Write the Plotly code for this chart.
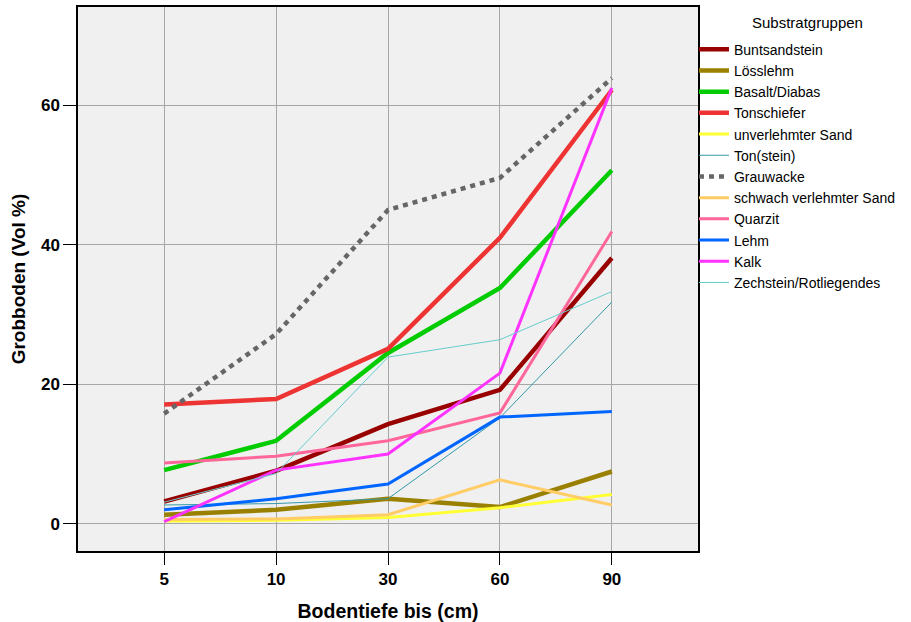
import plotly.graph_objects as go

depths = ["5", "10", "30", "60", "90"]

buntsandstein = [3.2, 7.6, 14.3, 19.2, 38.1]
loesslehm = [1.3, 2.0, 3.6, 2.4, 7.5]
basalt = [7.7, 11.9, 24.5, 33.8, 50.7]
tonschiefer = [17.1, 17.9, 25.1, 41.0, 62.2]
unverlehmt = [0.4, 0.5, 0.9, 2.3, 4.2]
tonstein = [2.7, 2.9, 3.6, 15.2, 31.8]
grauwacke = [15.8, 27.2, 45.0, 49.6, 63.9]
schwach = [0.6, 0.7, 1.3, 6.3, 2.7]
quarzit = [8.7, 9.7, 11.9, 15.9, 41.9]
lehm = [2.0, 3.6, 5.7, 15.3, 16.1]
kalk = [0.3, 7.7, 10.0, 21.6, 62.5]
zechstein = [3.1, 7.2, 23.9, 26.4, 33.3]

series = [
    ("Buntsandstein", buntsandstein, "#990000", 4.5, "solid"),
    ("Lösslehm", loesslehm, "#998000", 4.5, "solid"),
    ("Basalt/Diabas", basalt, "#00cc00", 4.5, "solid"),
    ("Tonschiefer", tonschiefer, "#ee3333", 4.5, "solid"),
    ("unverlehmter Sand", unverlehmt, "#ffff33", 3, "solid"),
    ("Ton(stein)", tonstein, "#3399aa", 1, "solid"),
    ("Grauwacke", grauwacke, "#666666", 4.5, "5px,5px"),
    ("schwach verlehmter Sand", schwach, "#ffcc66", 3, "solid"),
    ("Quarzit", quarzit, "#ff6699", 3, "solid"),
    ("Lehm", lehm, "#0066ff", 3, "solid"),
    ("Kalk", kalk, "#ff33ff", 3, "solid"),
    ("Zechstein/Rotliegendes", zechstein, "#66cccc", 1, "solid"),
]

fig = go.Figure()
for i, (name, vals, col, w, dash) in enumerate(series):
    fig.add_trace(go.Scatter(
        x=depths, y=vals, name=name, mode="lines",
        line=dict(color=col, width=w, dash=dash),
        legendgroup=f"g{i}",
    ))

fig.add_annotation(
    text="Substratgruppen", xref="paper", yref="paper",
    x=1.177, y=0.972, xanchor="center", yanchor="middle",
    showarrow=False, font=dict(size=15),
)

fig.update_layout(
    width=911, height=622,
    margin=dict(l=78, r=213, t=7, b=71, autoexpand=False),
    paper_bgcolor="white", plot_bgcolor="#f0f0f0",
    font=dict(family="Arial, Liberation Sans, sans-serif", color="black"),
    legend=dict(
        x=0.9935, xanchor="left", y=0.951, yanchor="top",
        font=dict(size=14), tracegroupgap=0, itemwidth=30,
        bgcolor="rgba(0,0,0,0)",
    ),
    xaxis=dict(
        type="category", range=[-0.77, 4.77],
        showgrid=True, gridcolor="#a6a6a6", gridwidth=1,
        showline=True, linecolor="black", linewidth=1.5, mirror=True,
        ticks="outside", ticklen=12, tickcolor="black",
        tickfont=dict(size=17, weight="bold"),
        title=dict(text="Bodentiefe bis (cm)", font=dict(size=19.5, weight="bold"), standoff=16),
        zeroline=False,
    ),
    yaxis=dict(
        range=[-3.9, 74.1], tickvals=[0, 20, 40, 60],
        showgrid=True, gridcolor="#a6a6a6", gridwidth=1,
        showline=True, linecolor="black", linewidth=1.5, mirror=True,
        ticks="outside", ticklen=13, tickcolor="black",
        tickfont=dict(size=17, weight="bold"),
        title=dict(text="Grobboden (Vol %)", font=dict(size=19, weight="bold"), standoff=10),
        zeroline=False,
    ),
    showlegend=True,
)

fig.write_html("out.html")
